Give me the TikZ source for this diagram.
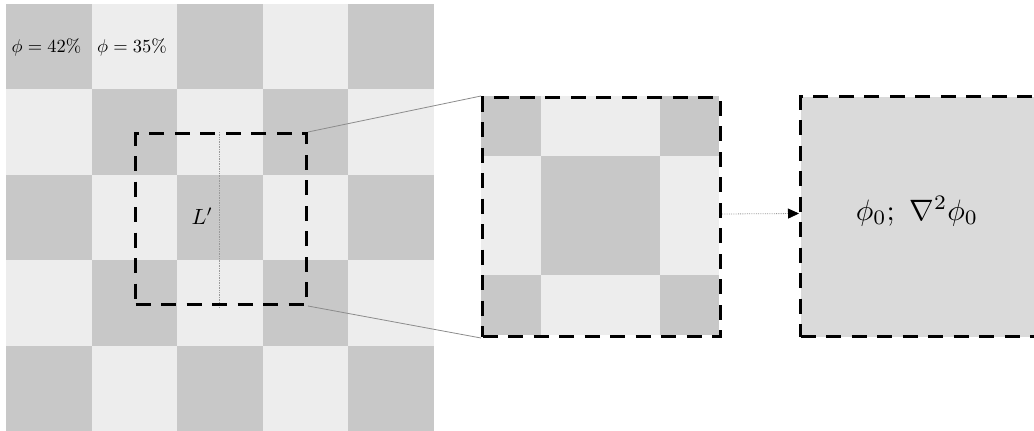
\documentclass[tikz,border=0pt]{standalone}
\usepackage{graphicx}
\usetikzlibrary{arrows.meta}
\definecolor{cdark}{HTML}{C8C8C8}
\definecolor{clight}{HTML}{EDEDED}
\definecolor{cres}{HTML}{DADADA}
\definecolor{clink}{HTML}{8C8C8C}
\begin{document}
\begin{tikzpicture}[x=1pt,y=-1pt,
  dashbox/.style={draw=black, line width=3pt, dash pattern=on 15pt off 10.5pt, inner sep=0pt, anchor=north west},
  link/.style={draw=clink, line width=0.8pt},
  dimline/.style={draw=gray!80, line width=0.7pt, densely dotted},
  arrowline/.style={draw=gray!80, line width=0.8pt, densely dotted, -{Triangle[length=11pt,width=10pt,black]}},
  plabel/.style={inner sep=0pt}]
\useasboundingbox (0,0) rectangle (1034,431);
% --- checkerboard ---
\fill[clight] (6,3.8) rectangle (434,431.5);
\foreach \r in {0,...,4}{
  \foreach \c in {0,...,4}{
    \pgfmathtruncatemacro\p{mod(\r+\c,2)}
    \ifnum\p=0
      \fill[cdark] ({6+85.6*\c},{3.8+85.45*\r}) rectangle ({6+85.6*(\c+1)},{3.8+85.45*(\r+1)});
    \fi
  }
}
\node[plabel] (p42) at (46.5,47) {\scalebox{1.85}{$\phi = 42\%$}};
\node[plabel] (p35) at (132,47) {\scalebox{1.85}{$\phi = 35\%$}};
% dimension line and label
\coordinate (d1) at (219.5,132);
\coordinate (d2) at (219.5,308);
\draw[dimline] (d1) -- (d2);
\node[inner sep=0pt, anchor=east] (lp) at (213,216) {\scalebox{2.2}{$L'$}};
% selection box
\node[dashbox, minimum width=171pt, minimum height=171pt] (sel) at (134,132) {};
% --- zoomed box ---
\fill[clight] (481,96) rectangle (719,335);
\fill[cdark] (481,96) rectangle (541,155.5);
\fill[cdark] (660,96) rectangle (719,155.5);
\fill[cdark] (541,155.5) rectangle (660,275);
\fill[cdark] (481,275) rectangle (541,335);
\fill[cdark] (660,275) rectangle (719,335);
\node[dashbox, minimum width=238pt, minimum height=239pt] (zoombox) at (481,96) {};
% --- result box ---
\node[dashbox, fill=cres, minimum width=238pt, minimum height=240pt] (res) at (799,95) {};
\node[inner sep=0pt] (rt) at (917,211) {\scalebox{2.95}{$\phi_0;\ \nabla^2\phi_0$}};
% --- connectors ---
\draw[link] (sel.north east) -- (zoombox.north west);
\draw[link] (sel.south east) -- (zoombox.south west);
\draw[arrowline] ([yshift=3pt]zoombox.east) -- ([yshift=3pt]res.west);
\end{tikzpicture}
\end{document}
